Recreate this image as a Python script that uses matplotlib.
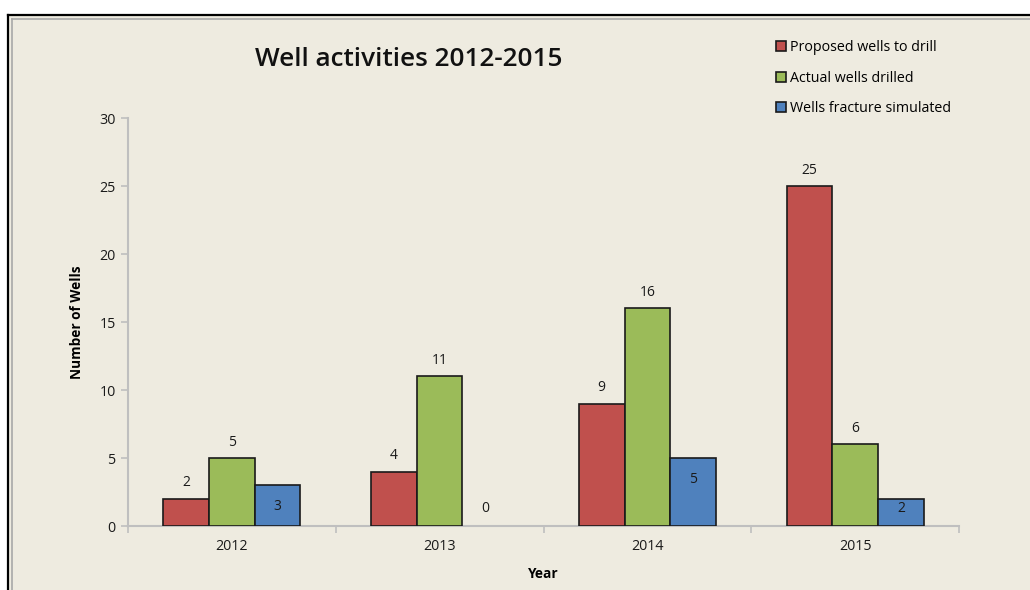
import matplotlib
matplotlib.use('Agg')
import matplotlib.pyplot as plt
from matplotlib.lines import Line2D
import numpy as np

plt.rcParams['font.family'] = ['Open Sans', 'DejaVu Sans']

# Daten
years = ['2012', '2013', '2014', '2015']
proposed = [2, 4, 9, 25]
drilled = [5, 11, 16, 6]
fractured = [3, 0, 5, 2]
series_names = ['Proposed wells to drill', 'Actual wells drilled', 'Wells fracture simulated']
colors = ['#C0504D', '#9BBB59', '#4F81BD']
bg = '#EEEBE0'

fig = plt.figure(figsize=(10.3, 5.9), dpi=100)
fig.patch.set_facecolor('white')

# Rahmen um das Diagramm (schwarz + grau)
W, H = 1030, 590
fig.add_artist(plt.Rectangle((8 / W, 0), 1, 1 - 15 / H, transform=fig.transFigure,
                             facecolor=bg, edgecolor='none', zorder=-5))
fig.add_artist(Line2D([8 / W, 1], [1 - 15 / H] * 2, color='black', lw=1.6, zorder=-4))
fig.add_artist(Line2D([8 / W] * 2, [0, 1 - 15 / H], color='black', lw=1.6, zorder=-4))
fig.add_artist(Line2D([11.5 / W, 1], [1 - 18.5 / H] * 2, color='#A8A8A8', lw=1.2, zorder=-4))
fig.add_artist(Line2D([11.5 / W] * 2, [0, 1 - 18.5 / H], color='#A8A8A8', lw=1.2, zorder=-4))

ax = fig.add_axes([128 / W, 1 - 526 / H, (959 - 128) / W, (526 - 118) / H])
ax.set_zorder(2)
ax.patch.set_alpha(0)

x = np.arange(len(years))
w = 0.22
axis_col = '#BFBFBF'

bars = []
for i, (vals, c, name) in enumerate(zip([proposed, drilled, fractured], colors, series_names)):
    b = ax.bar(x + (i - 1) * w, vals, w, color=c, edgecolor='#1a1a1a', linewidth=1.2,
               label=name, zorder=3)
    for r in b:
        if r.get_height() == 0:
            r.set_linewidth(0)
    bars.append(b)

# Wertebeschriftungen
for b in bars[:2]:
    for r in b:
        v = r.get_height()
        ax.annotate(f'{v:g}', (r.get_x() + r.get_width() / 2, v), xytext=(0, 6),
                    textcoords='offset points', ha='center', va='bottom',
                    fontsize=10, color='#1a1a1a')
for r in bars[2]:
    v = r.get_height()
    ax.text(r.get_x() + r.get_width() / 2, max(v - 1.6, 1.3), f'{v:g}',
            ha='center', va='center', fontsize=10, color='#1a1a1a', zorder=4)

ax.set_xlim(-0.5, 3.5)
ax.set_ylim(0, 30)
ax.set_yticks(range(0, 31, 5))
ax.set_xticks(x)
ax.set_xticklabels(years)
ax.set_xticks(np.arange(-0.5, 4, 1), minor=True)

for s in ['top', 'right']:
    ax.spines[s].set_visible(False)
for s in ['left', 'bottom']:
    ax.spines[s].set_color(axis_col)
    ax.spines[s].set_linewidth(1.5)

ax.tick_params(axis='y', length=5, width=1.2, color=axis_col, labelsize=10.3,
               labelcolor='#1a1a1a', pad=4)
ax.tick_params(axis='x', which='major', length=0, labelsize=10.3, labelcolor='#1a1a1a', pad=9)
ax.tick_params(axis='x', which='minor', length=5, width=1.2, color=axis_col)

ax.set_ylabel('Number of Wells', fontsize=9.8, fontweight='bold', labelpad=11)
ax.set_xlabel('Year', fontsize=9.8, fontweight='bold', labelpad=9.5)

fig.text(409 / W, 1 - 60 / H, 'Well activities 2012-2015', ha='center', va='center',
         fontsize=18.8, fontweight='semibold', color='#111111')

fig.legend(handles=bars, labels=series_names, loc='upper left',
           bbox_to_anchor=(763 / W, 1 - 27 / H), frameon=False, fontsize=10.3,
           handlelength=0.7, handleheight=0.7, handletextpad=0.3, labelspacing=1.1)

plt.savefig('out.png', dpi=100)
